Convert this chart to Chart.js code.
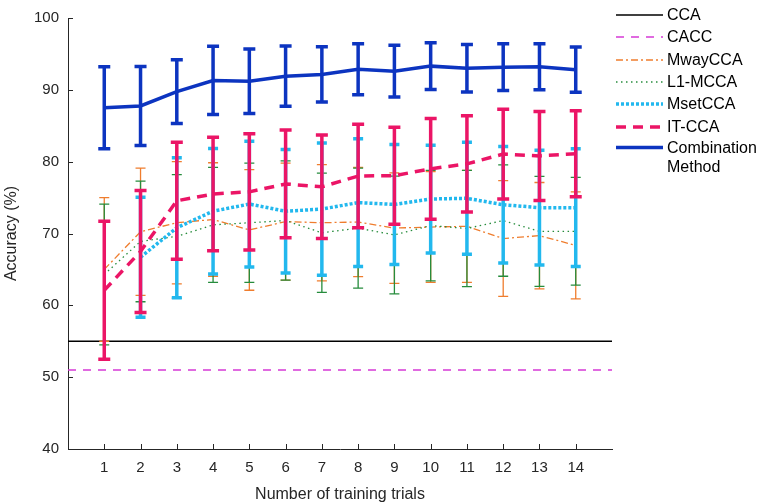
<!DOCTYPE html>
<html lang="en">
<head>
<meta charset="UTF-8">
<title>Accuracy vs training trials</title>
<style>
  body { margin: 0; background: #fff; }
  #wrap { position: relative; width: 772px; height: 504px; }
  #chart { position: absolute; left: 0; top: 0; }
  #legend {
    position: absolute; left: 616px; top: 4px;
    font-family: "Liberation Sans", Arial, sans-serif; font-size: 16px; color: #000;
  }
  .row { display: flex; align-items: center; height: 22.3px; }
  .row svg { flex: none; margin-right: 4px; }
  .row.two { align-items: flex-start; height: auto; line-height: 19px; }
</style>
</head>
<body>
<div id="wrap">
  <canvas id="chart" width="772" height="504"></canvas>
  <div id="legend"></div>
</div>
<script src="https://cdn.jsdelivr.net/npm/chart.js"></script>
<script>
// training trials on the x axis
const trials = [1, 2, 3, 4, 5, 6, 7, 8, 9, 10, 11, 12, 13, 14];

// flat reference levels
const ccaLevel = 55;
const caccLevel = 51;

// mean accuracy and error half-width per trial
const mwayMean = [65.0, 70.25, 71.5, 71.95, 70.5, 71.65, 71.5, 71.6, 70.75, 70.9, 71.0, 69.3, 69.7, 68.35];
const mwayErr  = [10.0, 8.85, 8.5, 7.9, 8.4, 8.15, 8.1, 7.6, 7.7, 7.7, 7.8, 8.05, 7.4, 7.45];

const l1Mean = [64.3, 68.9, 69.6, 71.2, 71.5, 71.8, 70.1, 70.75, 69.8, 71.1, 70.7, 71.8, 70.3, 70.3];
const l1Err  = [9.8, 8.4, 8.6, 8.0, 8.3, 8.3, 8.3, 8.35, 8.2, 7.7, 8.1, 7.75, 7.65, 7.5];

const msetMean = [null, 66.7, 70.8, 73.1, 74.1, 73.1, 73.4, 74.3, 74.05, 74.8, 74.9, 74.0, 73.6, 73.6];
const msetErr  = [null, 8.35, 9.75, 8.75, 8.75, 8.6, 9.2, 8.9, 8.35, 7.5, 7.8, 8.1, 8.0, 8.2];

const itMean = [62.1, 67.5, 74.55, 75.5, 75.8, 76.9, 76.5, 78.0, 78.05, 79.0, 79.7, 81.05, 80.8, 81.1];
const itErr  = [9.6, 8.5, 8.15, 7.9, 8.1, 7.5, 7.2, 7.2, 6.75, 7.0, 6.7, 6.25, 6.2, 6.0];

const combMean = [87.5, 87.75, 89.75, 91.3, 91.2, 91.9, 92.15, 92.85, 92.6, 93.3, 93.0, 93.15, 93.2, 92.8];
const combErr  = [5.7, 5.5, 4.45, 4.75, 4.5, 4.2, 3.85, 3.55, 3.6, 3.25, 3.3, 3.25, 3.2, 3.15];

const yTicks = [40, 50, 60, 70, 80, 90, 100];
const xMin = 0, xMax = 15;

const FONT = '"Liberation Sans", Arial, sans-serif';
const AXIS = '#262626';

const pts = (vals) => trials.map((t, i) => ({ x: t, y: vals[i] }));
const flat = (v) => [{ x: xMin, y: v }, { x: xMax, y: v }];

// legend text, style and series
const series = [
  { label: 'CCA', data: flat(ccaLevel), color: '#000000', width: 1.3, dash: [] },
  { label: 'CACC', data: flat(caccLevel), color: '#d63ad6', width: 1.3, dash: [8, 7] },
  { label: 'MwayCCA', data: pts(mwayMean), errors: mwayErr, color: '#ef7d2e', width: 1.3, dash: [7, 3, 2, 3], cap: 10 },
  { label: 'L1-MCCA', data: pts(l1Mean), errors: l1Err, color: '#268c3c', width: 1.3, dash: [1.5, 3.5], cap: 10 },
  { label: 'MsetCCA', data: pts(msetMean), errors: msetErr, color: '#22b8ee', width: 3.5, dash: [3, 2], cap: 10 },
  { label: 'IT-CCA', data: pts(itMean), errors: itErr, color: '#eb1566', width: 3.5, dash: [10, 7], cap: 12 },
  { label: 'Combination\nMethod', data: pts(combMean), errors: combErr, color: '#0c34c0', width: 3.5, dash: [], cap: 12 }
];

const datasets = series.map((s, i) => ({
  label: s.label,
  data: s.data,
  errors: s.errors,
  cap: s.cap,
  borderColor: s.color,
  borderWidth: s.width,
  borderDash: s.dash,
  pointRadius: 0,
  tension: 0,
  fill: false,
  spanGaps: false,
  order: series.length - i
}));

// vertical error bars, drawn right after each line so stacking follows series order
const errorBars = {
  id: 'errorBars',
  afterDatasetDraw(chart, args) {
    const ds = chart.data.datasets[args.index];
    if (!ds.errors) return;
    const xs = chart.scales.x, ys = chart.scales.y, ctx = chart.ctx;
    ctx.save();
    ctx.strokeStyle = ds.borderColor;
    ctx.lineWidth = ds.borderWidth;
    ctx.setLineDash([]);
    ctx.lineCap = 'butt';
    ds.data.forEach((p, i) => {
      const e = ds.errors[i];
      if (p.y == null || e == null) return;
      const px = xs.getPixelForValue(p.x);
      const top = ys.getPixelForValue(p.y + e);
      const bot = ys.getPixelForValue(p.y - e);
      const h = ds.cap / 2;
      ctx.beginPath();
      ctx.moveTo(px, top); ctx.lineTo(px, bot);
      ctx.moveTo(px - h, top); ctx.lineTo(px + h, top);
      ctx.moveTo(px - h, bot); ctx.lineTo(px + h, bot);
      ctx.stroke();
    });
    ctx.restore();
  }
};

// inward tick marks, MATLAB style
const innerTicks = {
  id: 'innerTicks',
  afterDraw(chart) {
    const xs = chart.scales.x, ys = chart.scales.y, ctx = chart.ctx;
    const a = chart.chartArea;
    ctx.save();
    ctx.strokeStyle = AXIS;
    ctx.lineWidth = 1;
    ctx.beginPath();
    trials.forEach(t => {
      const px = Math.round(xs.getPixelForValue(t)) + 0.5;
      ctx.moveTo(px, a.bottom); ctx.lineTo(px, a.bottom - 5);
    });
    yTicks.forEach(v => {
      const py = Math.round(ys.getPixelForValue(v)) + 0.5;
      ctx.moveTo(a.left, py); ctx.lineTo(a.left + 5, py);
    });
    ctx.stroke();
    ctx.restore();
  }
};

new Chart(document.getElementById('chart'), {
  type: 'line',
  data: { datasets },
  options: {
    responsive: false,
    animation: false,
    devicePixelRatio: 1,
    layout: { padding: { left: 0, right: 160, top: 9, bottom: 0 } },
    plugins: { legend: { display: false }, tooltip: { enabled: false } },
    scales: {
      x: {
        type: 'linear', min: xMin, max: xMax,
        afterFit: (s) => { s.height = 55; },
        grid: { display: true, drawOnChartArea: false, drawTicks: false },
        border: { display: true, color: AXIS, width: 1 },
        ticks: {
          stepSize: 1, autoSkip: false, maxRotation: 0, padding: 10,
          color: AXIS, font: { family: FONT, size: 15 },
          callback: (v) => (trials.includes(v) ? String(v) : '')
        },
        title: {
          display: true, text: 'Number of training trials', color: AXIS,
          font: { family: FONT, size: 16 }, padding: { top: 4, bottom: 0 }
        }
      },
      y: {
        min: 40, max: 100,
        afterFit: (s) => { s.width = 68; },
        grid: { display: true, drawOnChartArea: false, drawTicks: false },
        border: { display: true, color: AXIS, width: 1 },
        ticks: { stepSize: 10, padding: 9, color: AXIS, font: { family: FONT, size: 15 } },
        title: {
          display: true, text: 'Accuracy (%)', color: AXIS,
          font: { family: FONT, size: 16 }, padding: { top: 2, bottom: 0 }
        }
      }
    }
  },
  plugins: [errorBars, innerTicks]
});

// legend as real text
const legend = document.getElementById('legend');
series.forEach(s => {
  const row = document.createElement('div');
  const lines = s.label.split('\n');
  row.className = lines.length > 1 ? 'row two' : 'row';
  const svgH = lines.length > 1 ? 19 : 22;
  const dash = s.dash.length ? ` stroke-dasharray="${s.dash.join(' ')}"` : '';
  row.innerHTML =
    `<svg width="47" height="${svgH}"><line x1="0" y1="${svgH / 2}" x2="47" y2="${svgH / 2}" stroke="${s.color}" stroke-width="${s.width}"${dash}/></svg>` +
    `<span>${lines.join('<br>')}</span>`;
  legend.appendChild(row);
});
</script>
</body>
</html>
